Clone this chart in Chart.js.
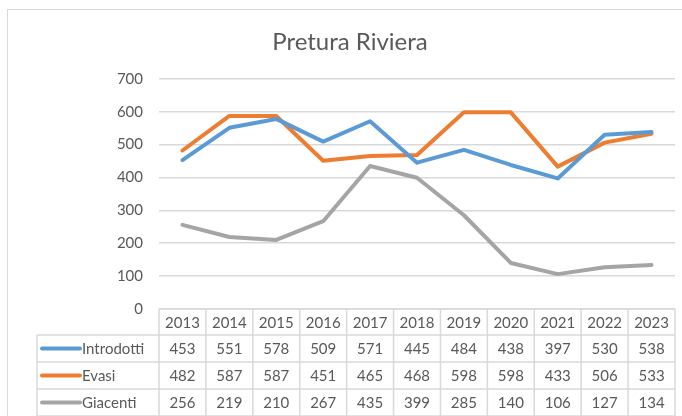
<!DOCTYPE html>
<html><head><meta charset="utf-8">
<script src="https://cdn.jsdelivr.net/npm/chart.js@4/dist/chart.umd.min.js"></script>
<style>
html,body{margin:0;padding:0;background:#fff;}
#wrap{position:relative;width:682px;height:416px;}
#frame{position:absolute;left:7px;top:9px;width:690px;height:420px;border:1.5px solid #d9d9d9;box-sizing:border-box;pointer-events:none;}
</style></head>
<body><div id="wrap"><canvas id="c" width="682" height="416"></canvas><div id="frame"></div></div>
<script>
const categories = ['2013','2014','2015','2016','2017','2018','2019','2020','2021','2022','2023'];
const introdotti = [453,551,578,509,571,445,484,438,397,530,538];
const evasi = [482,587,587,451,465,468,598,598,433,506,533];
const giacenti = [256,219,210,267,435,399,285,140,106,127,134];
const seriesNames = ['Introdotti','Evasi','Giacenti'];
const seriesColors = ['#5B9BD5','#ED7D31','#A5A5A5'];
const seriesData = [introdotti, evasi, giacenti];
const FONT = 'Lato, "Open Sans", sans-serif';
const TXT = '#595959';
const LINE = '#d9d9d9';

const tablePlugin = {
  id: 'dataTable',
  afterDraw(chart) {
    const ctx = chart.ctx;
    const x = chart.scales.x;
    const a = chart.chartArea;
    const n = categories.length;
    const colW = (a.right - a.left) / n;
    const top = a.bottom;
    const headH = 26, rowH = 27;
    const labelLeft = 37;
    ctx.save();
    ctx.strokeStyle = LINE;
    ctx.lineWidth = 1.5;
    ctx.beginPath();
    ctx.moveTo(a.left, top); ctx.lineTo(a.right, top);
    for (let i = 0; i <= n; i++) {
      const xx = a.left + i * colW;
      ctx.moveTo(xx, top); ctx.lineTo(xx, top + headH + rowH * 3);
    }
    for (let r = 0; r <= 3; r++) {
      const yy = top + headH + r * rowH;
      ctx.moveTo(labelLeft, yy); ctx.lineTo(a.right, yy);
    }
    ctx.moveTo(labelLeft, top + headH); ctx.lineTo(labelLeft, top + headH + rowH * 3);
    ctx.stroke();
    ctx.fillStyle = TXT;
    ctx.font = '15px ' + FONT;
    ctx.textAlign = 'center';
    ctx.textBaseline = 'middle';
    categories.forEach((c, i) => {
      const cx = x.getPixelForValue(i);
      ctx.fillText(c, cx, top + headH / 2 + 1);
      seriesData.forEach((d, r) => {
        ctx.fillText(String(d[i]), cx, top + headH + r * rowH + rowH / 2 + 1);
      });
    });
    seriesNames.forEach((nm, r) => {
      const cy = top + headH + r * rowH + rowH / 2;
      ctx.strokeStyle = seriesColors[r];
      ctx.lineWidth = 4;
      ctx.lineCap = 'round';
      ctx.beginPath();
      ctx.moveTo(42, cy); ctx.lineTo(80, cy);
      ctx.stroke();
      ctx.fillStyle = TXT;
      ctx.textAlign = 'left';
      ctx.fillText(nm, 82, cy + 1);
    });
    ctx.restore();
  }
};

new Chart(document.getElementById('c'), {
  type: 'line',
  data: {
    labels: categories,
    datasets: seriesNames.map((nm, i) => ({
      label: nm,
      data: seriesData[i],
      borderColor: seriesColors[i],
      backgroundColor: seriesColors[i],
      borderWidth: 4,
      pointRadius: 0,
      tension: 0,
      borderCapStyle: 'round',
      borderJoinStyle: 'round'
    }))
  },
  options: {
    responsive: false,
    animation: false,
    layout: { padding: { left: 25, right: 7, top: 0, bottom: 107 } },
    plugins: {
      legend: { display: false },
      tooltip: { enabled: false },
      title: {
        display: true,
        text: 'Pretura Riviera',
        color: TXT,
        font: { family: FONT, size: 24, weight: 'normal' },
        padding: { top: 28, bottom: 22 }
      }
    },
    scales: {
      x: {
        type: 'category',
        offset: true,
        display: false
      },
      y: {
        min: 0, max: 700,
        ticks: { stepSize: 100, color: TXT, font: { family: FONT, size: 15 }, padding: 16 },
        grid: { color: LINE, lineWidth: 1.5, drawTicks: false },
        border: { display: false },
        afterFit(s) { s.width = 134; }
      }
    }
  },
  plugins: [tablePlugin]
});
</script></body></html>
